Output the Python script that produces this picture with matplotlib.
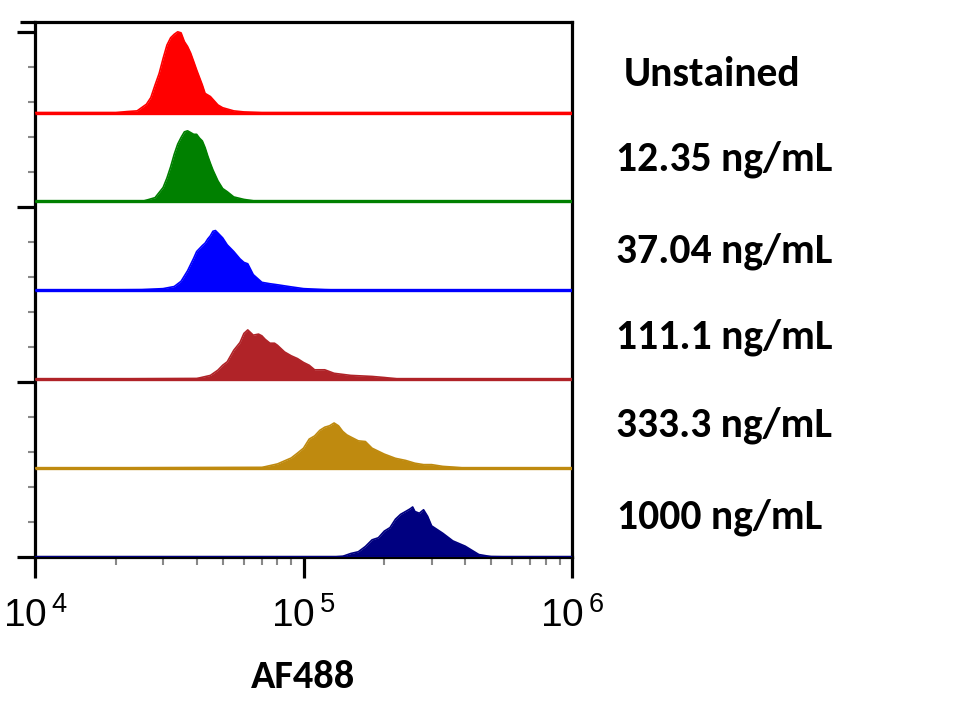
import matplotlib
matplotlib.use("Agg")
import matplotlib.pyplot as plt
from matplotlib.ticker import FixedLocator, NullFormatter
import numpy as np

# ---------------- data (AF488 intensity, relative count) ----------------
labels = ["Unstained", "12.35 ng/mL", "37.04 ng/mL", "111.1 ng/mL", "333.3 ng/mL", "1000 ng/mL"]
colors = ["#ff0000", "#008000", "#0000ff", "#b02328", "#bf8a0f", "#000080"]
offsets = [12.7, 10.16, 7.62, 5.08, 2.54, 0.0]

x_unstained = [10000, 20000, 22000, 24000, 26000, 27000, 28000, 29000, 30000, 31000, 32000, 33000,
               34000, 35000, 36000, 37000, 38000, 39000, 40000, 42000, 43000, 45000, 48000, 50000,
               55000, 60000, 70000, 1000000]
y_unstained = [0, 0, 0.03, 0.05, 0.24, 0.43, 0.79, 1.12, 1.55, 1.93, 2.14, 2.24,
               2.31, 2.28, 2.03, 1.89, 1.70, 1.46, 1.22, 0.79, 0.55, 0.46, 0.22, 0.14,
               0.05, 0.02, 0, 0]

x_12 = [10000, 25000, 28000, 30000, 31000, 32000, 33000, 34000, 35000, 36000, 37000, 38000,
        39000, 40000, 41000, 42000, 43000, 44000, 45000, 46000, 48000, 50000, 52000, 55000,
        60000, 65000, 70000, 1000000]
y_12 = [0, 0, 0.11, 0.40, 0.67, 0.99, 1.35, 1.64, 1.83, 1.99, 2.02, 1.97,
        1.92, 1.92, 1.81, 1.73, 1.54, 1.30, 1.09, 0.90, 0.59, 0.37, 0.28, 0.13,
        0.06, 0.02, 0, 0]

x_37 = [10000, 25000, 30000, 33000, 35000, 37000, 39000, 40000, 42000, 43000, 44000, 45000,
        46000, 47000, 48000, 50000, 52000, 55000, 58000, 60000, 62000, 65000, 70000, 75000,
        80000, 90000, 100000, 120000, 150000, 1000000]
y_37 = [0, 0.02, 0.05, 0.11, 0.26, 0.56, 0.92, 1.11, 1.28, 1.35, 1.47, 1.56,
        1.69, 1.71, 1.64, 1.50, 1.30, 1.11, 0.90, 0.80, 0.76, 0.45, 0.23, 0.19,
        0.16, 0.10, 0.05, 0.02, 0, 0]

x_111 = [10000, 40000, 45000, 48000, 50000, 52000, 55000, 58000, 60000, 62000, 65000, 68000,
         70000, 72000, 75000, 78000, 80000, 85000, 90000, 95000, 100000, 105000, 110000,
         120000, 130000, 150000, 180000, 200000, 230000, 1000000]
y_111 = [0, 0.02, 0.11, 0.26, 0.40, 0.50, 0.83, 1.05, 1.31, 1.41, 1.26, 1.29,
         1.24, 1.14, 1.03, 1.03, 0.97, 0.78, 0.67, 0.59, 0.48, 0.40, 0.27,
         0.27, 0.17, 0.11, 0.08, 0.05, 0, 0]

x_333 = [10000, 70000, 80000, 90000, 95000, 100000, 105000, 110000, 115000, 120000, 125000,
         130000, 135000, 140000, 145000, 150000, 160000, 170000, 180000, 200000, 220000,
         240000, 260000, 280000, 300000, 330000, 360000, 400000, 1000000]
y_333 = [0, 0.02, 0.12, 0.29, 0.43, 0.57, 0.83, 0.92, 1.08, 1.17, 1.21,
         1.29, 1.21, 1.05, 0.95, 0.89, 0.78, 0.76, 0.57, 0.40, 0.28,
         0.22, 0.14, 0.10, 0.10, 0.05, 0.03, 0, 0]

x_1000 = [10000, 130000, 140000, 150000, 160000, 170000, 180000, 190000, 200000, 210000, 220000,
          230000, 240000, 250000, 255000, 260000, 270000, 280000, 290000, 300000, 330000,
          360000, 400000, 450000, 500000, 600000, 1000000]
y_1000 = [0, 0, 0.02, 0.10, 0.15, 0.30, 0.49, 0.55, 0.74, 0.84, 1.08,
          1.22, 1.30, 1.38, 1.43, 1.30, 1.25, 1.35, 1.16, 0.89, 0.68,
          0.46, 0.31, 0.07, 0.01, 0, 0]

series_x = [x_unstained, x_12, x_37, x_111, x_333, x_1000]
series_y = [y_unstained, y_12, y_37, y_111, y_333, y_1000]

xticks_major = [1e4, 1e5, 1e6]
xtick_labels = [r"$\mathregular{10^{\,4}}$", r"$\mathregular{10^{\,5}}$", r"$\mathregular{10^{\,6}}$"]
x_label = "AF488"

# ---------------- figure ----------------
W, H = 970, 725
fig = plt.figure(figsize=(W / 100, H / 100), dpi=100)
ax = fig.add_axes([35 / W, 1 - 557 / H, (572 - 35) / W, (557 - 22) / H])

for xs, ys, off, c in zip(series_x, series_y, offsets, colors):
    xs = np.asarray(xs, float)
    ys = np.asarray(ys, float) + off
    ax.fill_between(xs, off, ys, color=c, lw=0, zorder=2)
    ax.plot(xs, ys, color=c, lw=1.2, zorder=3)
    ax.plot([1e4, 1e6], [off, off], color=c, lw=2.4, zorder=3, solid_capstyle="butt")

ax.set_xscale("log")
ax.set_xlim(1e4, 1e6)
ax.set_ylim(0, 15.29)

for s in ax.spines.values():
    s.set_linewidth(2.3)
    s.set_color("black")

# x ticks
ax.xaxis.set_major_locator(FixedLocator(xticks_major))
ax.set_xticklabels(xtick_labels, fontsize=28, family="Liberation Sans")
minors = [m * 10 ** e for e in (4, 5) for m in range(2, 10)]
ax.xaxis.set_minor_locator(FixedLocator(minors))
ax.xaxis.set_minor_formatter(NullFormatter())
ax.tick_params(axis="x", which="major", direction="out", length=15, width=2.3, pad=14)
ax.tick_params(axis="x", which="minor", direction="out", length=6, width=1.5, color="#888888")

# y ticks
ax.yaxis.set_major_locator(FixedLocator([0, 5, 10, 15]))
ax.yaxis.set_minor_locator(FixedLocator([v for v in range(1, 15) if v % 5]))
ax.set_yticklabels([])
ax.tick_params(axis="y", which="major", direction="out", length=13, width=2.3)
ax.tick_params(axis="y", which="minor", direction="out", length=5, width=1.5, color="#888888")

# top spine extension to the left (as in the reference frame)
ax.plot([-15 / (572 - 35), 0], [1, 1], transform=ax.transAxes, color="black",
        lw=2.3, clip_on=False, solid_capstyle="butt")

label_font = ["Carlito", "Open Sans", "DejaVu Sans"]
ax.set_xlabel(x_label, fontsize=29, fontweight="bold", family=label_font, labelpad=18)

# right-side labels
baselines_px = [86, 171, 263, 348, 437, 529]
xpos_px = [624, 616, 616, 616, 616, 617]
for lab, by, bx in zip(labels, baselines_px, xpos_px):
    fig.text(bx / W, 1 - by / H, lab, fontsize=30, fontweight="bold",
             family=label_font, ha="left", va="baseline")

fig.savefig("out.png", dpi=100)
